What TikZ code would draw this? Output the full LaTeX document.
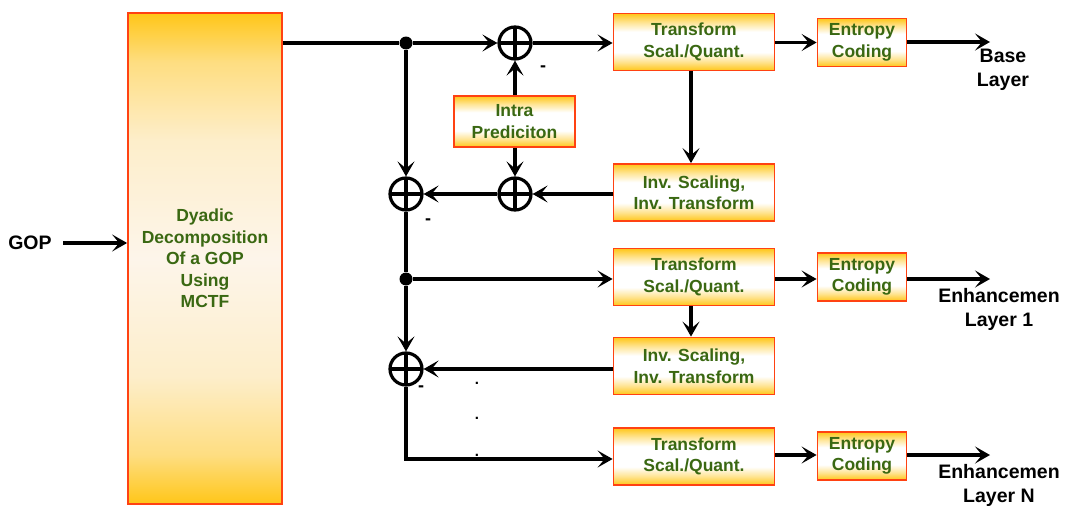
\documentclass[tikz,border=0pt]{standalone}
\usepackage{fontspec}
\setmainfont{Liberation Sans}
\usetikzlibrary{arrows.meta}
\definecolor{edgered}{RGB}{255,66,18}
\definecolor{fillgold}{RGB}{255,198,24}
\definecolor{textgreen}{RGB}{58,104,18}
\definecolor{cream}{RGB}{253,245,234}
% gold at top and bottom with a broad white band through the middle
\pgfdeclareverticalshading{goldband}{100bp}{%
  color(0bp)=(fillgold); color(25bp)=(fillgold); color(33bp)=(fillgold!45!white);
  color(41bp)=(white); color(59bp)=(white); color(67bp)=(fillgold!45!white);
  color(75bp)=(fillgold); color(100bp)=(fillgold)}
% tall block: gold ends fading quickly into cream
\pgfdeclareverticalshading{goldtall}{100bp}{%
  color(0bp)=(fillgold); color(25bp)=(fillgold); color(30bp)=(fillgold!50!cream);
  color(38bp)=(fillgold!15!cream); color(50bp)=(cream); color(62bp)=(fillgold!15!cream);
  color(70bp)=(fillgold!50!cream); color(75bp)=(fillgold); color(100bp)=(fillgold)}
\begin{document}
\begin{tikzpicture}[x=1pt,y=-1pt,
  blk/.style={draw=edgered, line width=1.8pt, shading=goldband, text=textgreen,
    align=center, inner sep=0pt, font=\bfseries\fontsize{17.5}{21.5}\selectfont},
  wide/.style={blk, minimum width=161pt, minimum height=57pt},
  entropy/.style={blk, minimum width=89pt, minimum height=48pt},
  conn/.style={line width=3.2pt},
  arr/.style={conn, -{Stealth[length=15pt,width=17pt,inset=7pt]}},
  sumj/.style={circle, draw, line width=3.2pt, minimum size=32pt, inner sep=0pt,
    path picture={\draw[line width=3.2pt]
      (path picture bounding box.north) -- (path picture bounding box.south)
      (path picture bounding box.west) -- (path picture bounding box.east);}},
  jdot/.style={circle, fill, inner sep=0pt, minimum size=13pt},
  outlbl/.style={align=center, inner sep=0pt, font=\bfseries\fontsize{19.5}{24}\selectfont},
  minus/.style={inner sep=0pt, font=\bfseries\fontsize{18}{18}\selectfont},
  vdot/.style={inner sep=0pt, anchor=base, font=\bfseries\fontsize{15}{15}\selectfont}
]
\useasboundingbox (0,0) rectangle (1069,506);

% decomposition block
\node[blk, minimum width=154pt, minimum height=491pt, shading=goldtall] (big) at (205,258.5)
  {Dyadic\\Decomposition\\Of a GOP\\Using\\MCTF};
\node[outlbl] (gop) at (30,243) {GOP};
\coordinate (gopin) at (63,243);
\draw[arr] (gopin) -- (gopin -| big.west);

% base layer
\node[jdot] (j1) at (406,43) {};
\node[sumj] (c1) at (515,43) {};
\node[wide] (T1) at (694,42) {Transform\\Scal./Quant.};
\node[entropy] (E1) at (862,42.5) {Entropy\\Coding};
\node[blk, minimum width=121pt, minimum height=51pt] (intra) at (514.5,121.5) {Intra\\Prediciton};
\node[sumj] (c2) at (515,194) {};
\node[sumj] (c3) at (406,194) {};
\node[wide] (I1) at (694,192.5) {Inv. Scaling,\\Inv. Transform};
\node[outlbl] (base) at (1003,70) {Base\\Layer};
\coordinate (o1) at (990,42);

\draw[conn] (big.east |- j1) -- (j1);
\draw[arr] (j1) -- (c1);
\draw[arr] (c1) -- (c1 -| T1.west);
\draw[arr] (T1.east |- E1) -- (E1.west);
\draw[arr] (E1.east |- o1) -- (o1);
\draw[arr] (intra.north -| c1) -- (c1.south);
\draw[arr] (intra.south -| c2) -- (c2.north);
\draw[arr] ([xshift=-3pt]T1.south) -- ([xshift=-3pt]I1.north);
\draw[arr] (I1.west |- c2) -- (c2.east);
\draw[arr] (c2.west) -- (c3.east);
\draw[arr] (j1) -- (c3.north);
\node[minus] (m1) at (543,69) {-};
\node[minus] (m2) at (428,222) {-};

% enhancement layer 1
\node[jdot] (j2) at (406,279) {};
\node[wide] (T2) at (694,277) {Transform\\Scal./Quant.};
\node[entropy] (E2) at (862,277) {Entropy\\Coding};
\node[wide] (I2) at (694,366) {Inv. Scaling,\\Inv. Transform};
\node[sumj] (c4) at (406,369) {};
\node[outlbl] (enh1) at (999,309) {Enhancemen\\Layer 1};
\coordinate (o2) at (990,279);

\draw[conn] (c3.south) -- (j2);
\draw[arr] (j2) -- (j2 -| T2.west);
\draw[arr] (T2.east |- o2) -- (E2.west |- o2);
\draw[arr] (E2.east |- o2) -- (o2);
\draw[arr] ([xshift=-3pt]T2.south) -- ([xshift=-3pt]I2.north);
\draw[arr] (I2.west |- c4) -- (c4.east);
\draw[arr] (j2) -- (c4.north);
\node[minus] (m3) at (421,389) {-};

% enhancement layer N
\node[vdot] (d1) at (477,384) {.};
\node[vdot] (d2) at (477,419) {.};
\node[vdot] (d3) at (477,456) {.};
\node[wide] (T3) at (694,456.5) {Transform\\Scal./Quant.};
\node[entropy] (E3) at (862,456) {Entropy\\Coding};
\node[outlbl] (enhN) at (999,485) {Enhancemen\\Layer N};
\coordinate (bend) at (406,459);
\coordinate (o3) at (990,455);

\draw[arr] (c4.south) -- (bend) -- (bend -| T3.west);
\draw[arr] (T3.east |- o3) -- (E3.west |- o3);
\draw[arr] (E3.east |- o3) -- (o3);
\end{tikzpicture}
\end{document}
